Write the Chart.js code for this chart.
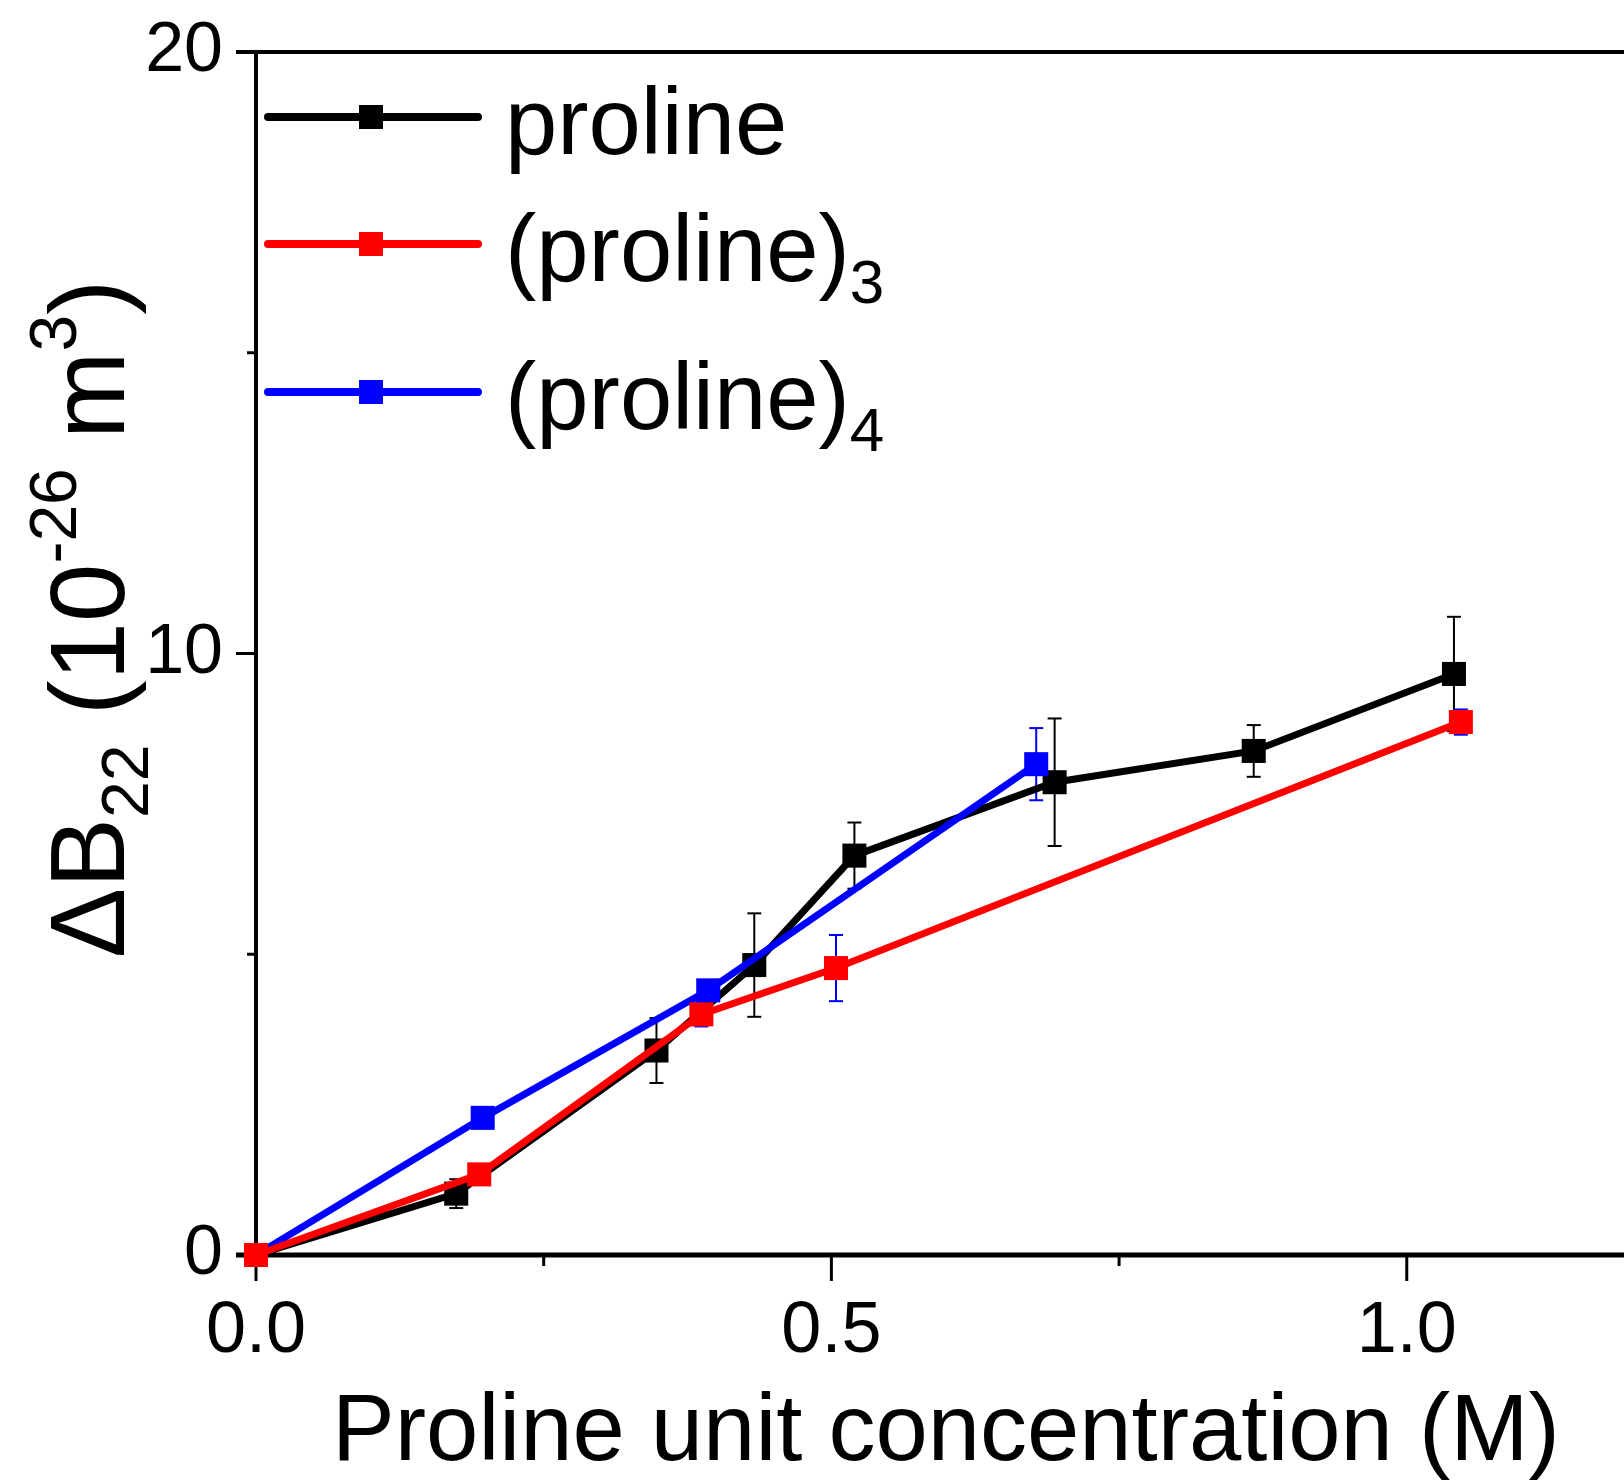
<!DOCTYPE html>
<html>
<head>
<meta charset="utf-8">
<title>Proline B22</title>
<script src="https://cdn.jsdelivr.net/npm/chart.js@4.4.1/dist/chart.umd.min.js"></script>
<style>
  html, body { margin: 0; padding: 0; background: #fff; }
  canvas { display: block; }
</style>
</head>
<body>
<canvas id="chart" width="1624" height="1480"></canvas>
<script>
// series data (x: proline unit concentration in M, y: dB22 in 1e-26 m^3)
const prolineX = [0, 0.174, 0.348, 0.433, 0.52, 0.694, 0.867, 1.041];
const prolineY = [0, 1.02, 3.40, 4.82, 6.64, 7.86, 8.38, 9.66];
const prolineErr = [0, 0.24, 0.54, 0.86, 0.55, 1.06, 0.43, 0.95];

const tripeptideX = [0, 0.194, 0.387, 0.504, 1.047];
const tripeptideY = [0, 1.34, 4.00, 4.77, 8.86];
const tripeptideErr = [0, 0.16, 0.20, 0.55, 0.21];

const tetrapeptideX = [0, 0.197, 0.393, 0.678];
const tetrapeptideY = [0, 2.28, 4.40, 8.16];
const tetrapeptideErr = [0, 0, 0, 0.6];

const seriesNames = ['proline', '(proline)', '(proline)'];
const seriesSubs = ['', '3', '4'];
const seriesColors = ['#000000', '#ff0000', '#0000ff'];
const errorColors = ['#000000', '#0000ff', '#0000ff'];

// axes
const xTickValues = [0, 0.25, 0.5, 0.75, 1.0];
const xLabelValues = [0, 0.5, 1.0];
const yTickValues = [0, 5, 10, 15, 20];
const yLabelValues = [0, 10, 20];
const xTitle = 'Proline unit concentration (M)';

const FONT = '"Liberation Sans", Arial, sans-serif';

function toPoints(xs, ys) {
  return xs.map((x, i) => ({ x: x, y: ys[i] }));
}

function line(ctx, x1, y1, x2, y2) {
  ctx.beginPath();
  ctx.moveTo(x1, y1);
  ctx.lineTo(x2, y2);
  ctx.stroke();
}

// draw a run of text pieces with sub/superscripts, starting at x
function drawParts(ctx, parts, x, y) {
  parts.forEach(p => {
    ctx.font = p.size + 'px ' + FONT;
    ctx.fillText(p.t, x, y + p.dy);
    x += ctx.measureText(p.t).width;
  });
}

function partsWidth(ctx, parts) {
  let w = 0;
  parts.forEach(p => {
    ctx.font = p.size + 'px ' + FONT;
    w += ctx.measureText(p.t).width;
  });
  return w;
}

// axis lines and outward ticks (major long, minor short)
const frame = {
  id: 'frame',
  beforeDatasetsDraw(chart) {
    const { ctx, chartArea: a, scales: { x, y } } = chart;
    ctx.save();
    ctx.strokeStyle = '#000';
    ctx.lineWidth = 4;
    line(ctx, a.left, a.top - 2, a.left, a.bottom);
    line(ctx, a.left - 20, a.top, chart.width, a.top);
    ctx.lineWidth = 5;
    line(ctx, a.left - 20, a.bottom, chart.width, a.bottom);
    ctx.lineWidth = 3;
    yTickValues.forEach(v => {
      const py = y.getPixelForValue(v);
      const len = yLabelValues.includes(v) ? 20 : 9;
      line(ctx, a.left - len, py, a.left, py);
    });
    xTickValues.forEach(v => {
      const px = x.getPixelForValue(v);
      const len = xLabelValues.includes(v) ? 26 : 11;
      line(ctx, px, a.bottom, px, a.bottom + len);
    });
    ctx.restore();
  }
};

// vertical error bars with caps
const errorBars = {
  id: 'errorBars',
  beforeDatasetsDraw(chart) {
    const { ctx, scales: { x, y } } = chart;
    ctx.save();
    ctx.lineWidth = 2;
    chart.data.datasets.forEach(ds => {
      ctx.strokeStyle = ds.errorColor;
      ds.data.forEach((p, i) => {
        const e = ds.errors[i];
        if (!e) return;
        const px = x.getPixelForValue(p.x);
        const top = y.getPixelForValue(p.y + e);
        const bot = y.getPixelForValue(p.y - e);
        line(ctx, px, top, px, bot);
        line(ctx, px - 7, top, px + 7, top);
        line(ctx, px - 7, bot, px + 7, bot);
      });
    });
    ctx.restore();
  }
};

// legend with subscripts, x title, and the rotated y title
const labels = {
  id: 'labels',
  afterDraw(chart) {
    const ctx = chart.ctx;
    ctx.save();
    ctx.fillStyle = '#000';
    ctx.textBaseline = 'alphabetic';
    ctx.textAlign = 'left';

    const rowY = [117, 244, 392];
    seriesNames.forEach((name, i) => {
      const ly = rowY[i];
      ctx.strokeStyle = seriesColors[i];
      ctx.lineWidth = 8;
      ctx.lineCap = 'round';
      line(ctx, 268, ly, 478, ly);
      ctx.fillStyle = seriesColors[i];
      ctx.fillRect(359, ly - 12, 24, 24);
      ctx.fillStyle = '#000';
      const parts = [{ t: name, size: 94, dy: 0 }];
      if (seriesSubs[i]) parts.push({ t: seriesSubs[i], size: 62, dy: 22 });
      drawParts(ctx, parts, 505, ly + 37);
    });

    ctx.font = '94px ' + FONT;
    ctx.textAlign = 'center';
    ctx.fillText(xTitle, 946, 1460);
    ctx.textAlign = 'left';

    const title = [
      { t: '\u0394B', size: 105, dy: 0 },
      { t: '22', size: 66, dy: 24 },
      { t: ' (10', size: 105, dy: 0 },
      { t: '-26', size: 66, dy: -48 },
      { t: ' m', size: 105, dy: 0 },
      { t: '3', size: 66, dy: -48 },
      { t: ')', size: 105, dy: 0 }
    ];
    const w = partsWidth(ctx, title);
    ctx.translate(124, 619);
    ctx.rotate(-Math.PI / 2);
    drawParts(ctx, title, -w / 2, 0);
    ctx.restore();
  }
};

function makeSet(i, xs, ys, errs, order) {
  return {
    label: seriesNames[i] + seriesSubs[i],
    data: toPoints(xs, ys),
    errors: errs,
    errorColor: errorColors[i],
    borderColor: seriesColors[i],
    backgroundColor: seriesColors[i],
    borderWidth: 7,
    pointStyle: 'rect',
    pointRadius: 17,
    pointBorderWidth: 0,
    pointHoverRadius: 17,
    tension: 0,
    fill: false,
    clip: false,
    order: order
  };
}

new Chart(document.getElementById('chart'), {
  type: 'line',
  data: {
    datasets: [
      makeSet(0, prolineX, prolineY, prolineErr, 3),
      makeSet(1, tripeptideX, tripeptideY, tripeptideErr, 1),
      makeSet(2, tetrapeptideX, tetrapeptideY, tetrapeptideErr, 2)
    ]
  },
  options: {
    responsive: false,
    animation: false,
    layout: { padding: { top: 52, right: 0, bottom: 0, left: 0 } },
    plugins: {
      legend: { display: false },
      tooltip: { enabled: false }
    },
    scales: {
      x: {
        type: 'linear',
        min: 0,
        max: 1.174,
        grid: { display: false, drawTicks: false },
        border: { display: false },
        afterBuildTicks: s => { s.ticks = xTickValues.map(v => ({ value: v })); },
        afterFit: s => { s.height = 225; s.paddingLeft = 0; s.paddingRight = 0; },
        ticks: {
          autoSkip: false,
          maxRotation: 0,
          padding: 34,
          color: '#000',
          font: { family: FONT, size: 72 },
          callback: v => xLabelValues.includes(v) ? v.toFixed(1) : ''
        }
      },
      y: {
        type: 'linear',
        min: 0,
        max: 20,
        grid: { display: false, drawTicks: false },
        border: { display: false },
        afterBuildTicks: s => { s.ticks = yTickValues.map(v => ({ value: v })); },
        afterFit: s => { s.width = 256; s.paddingTop = 0; s.paddingBottom = 0; },
        ticks: {
          autoSkip: false,
          padding: 33,
          color: '#000',
          font: { family: FONT, size: 70 },
          callback: v => yLabelValues.includes(v) ? String(v) : ''
        }
      }
    }
  },
  plugins: [frame, errorBars, labels]
});
</script>
</body>
</html>
